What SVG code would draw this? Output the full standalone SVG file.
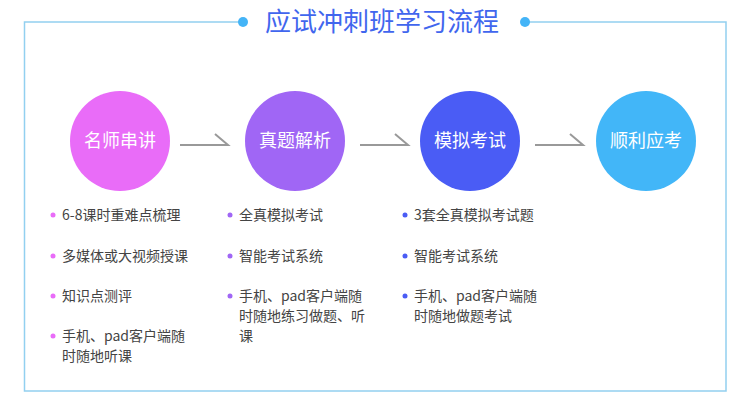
<svg xmlns="http://www.w3.org/2000/svg" width="750" height="420" viewBox="0 0 750 420">
<style>
.frame{fill:none;stroke:#92d0f0;stroke-width:1.5}
.title{font-family:"Noto Sans CJK SC","Noto Sans",sans-serif;font-size:26px;fill:#4166ee;text-anchor:middle}
.ctext{font-family:"Noto Sans CJK SC","Noto Sans",sans-serif;font-size:18px;fill:#ffffff;text-anchor:middle}
.item{font-family:"Noto Sans CJK SC","Noto Sans",sans-serif;font-size:14px;fill:#444444}
.arrow{fill:none;stroke:#999999;stroke-width:2}
</style>
<rect width="750" height="420" fill="#ffffff"/>
<g id="frame">
<polyline class="frame" points="240,22 24.5,22 24.5,391 726,391 726,22 528,22"/>
<circle cx="243" cy="22" r="5" fill="#44b4f7"/>
<circle cx="525" cy="22" r="5" fill="#44b4f7"/>
<text class="title" x="382" y="31">应试冲刺班学习流程</text>
</g>
<g id="connectors">
<polyline class="arrow" points="180,145 228,145 215,134"/>
<polyline class="arrow" points="360,145 408,145 395,134"/>
<polyline class="arrow" points="535,145 583,145 570,134"/>
</g>
<g id="node1">
<circle cx="120" cy="141" r="50" fill="#e96cf8"/>
<text class="ctext" x="120" y="147">名师串讲</text>
<circle cx="53" cy="215" r="2.5" fill="#e96cf8"/>
<text class="item" x="62" y="220">6-8课时重难点梳理</text>
<circle cx="53" cy="256" r="2.5" fill="#e96cf8"/>
<text class="item" x="62" y="261">多媒体或大视频授课</text>
<circle cx="53" cy="296" r="2.5" fill="#e96cf8"/>
<text class="item" x="62" y="301">知识点测评</text>
<circle cx="53" cy="336" r="2.5" fill="#e96cf8"/>
<text class="item" x="62" y="341">手机、pad客户端随</text>
<text class="item" x="62" y="361">时随地听课</text>
</g>
<g id="node2">
<circle cx="295" cy="141" r="50" fill="#a066f5"/>
<text class="ctext" x="295" y="147">真题解析</text>
<circle cx="230" cy="215" r="2.5" fill="#a066f5"/>
<text class="item" x="239" y="220">全真模拟考试</text>
<circle cx="230" cy="256" r="2.5" fill="#a066f5"/>
<text class="item" x="239" y="261">智能考试系统</text>
<circle cx="230" cy="296" r="2.5" fill="#a066f5"/>
<text class="item" x="239" y="301">手机、pad客户端随</text>
<text class="item" x="239" y="321">时随地练习做题、听</text>
<text class="item" x="239" y="341">课</text>
</g>
<g id="node3">
<circle cx="470" cy="141" r="50" fill="#4a5cf5"/>
<text class="ctext" x="470" y="147">模拟考试</text>
<circle cx="405" cy="215" r="2.5" fill="#4a5cf5"/>
<text class="item" x="414" y="220">3套全真模拟考试题</text>
<circle cx="405" cy="256" r="2.5" fill="#4a5cf5"/>
<text class="item" x="414" y="261">智能考试系统</text>
<circle cx="405" cy="296" r="2.5" fill="#4a5cf5"/>
<text class="item" x="414" y="301">手机、pad客户端随</text>
<text class="item" x="414" y="321">时随地做题考试</text>
</g>
<g id="node4">
<circle cx="646" cy="141" r="50" fill="#42b6f8"/>
<text class="ctext" x="646" y="147">顺利应考</text>
</g>
</svg>
